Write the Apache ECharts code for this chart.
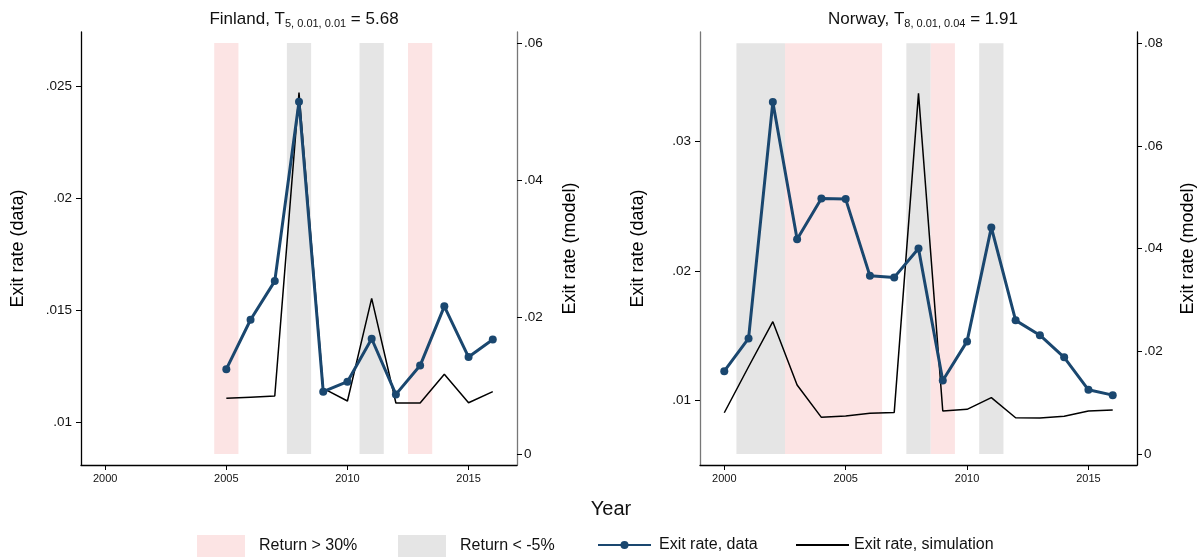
<!DOCTYPE html>
<html>
<head>
<meta charset="utf-8">
<script src="https://cdn.jsdelivr.net/npm/echarts@6/dist/echarts.min.js"></script>
<style>
html,body{margin:0;padding:0;background:#fff;}
#c{width:1199px;height:557px;}
</style>
</head>
<body>
<div id="c"></div>
<script>
// ---- data ----
var finYears = [2005, 2006, 2007, 2008, 2009, 2010, 2011, 2012, 2013, 2014, 2015, 2016];
var finData = [0.01236, 0.01457, 0.0163, 0.02433, 0.01135, 0.0118, 0.01372, 0.01123, 0.01252, 0.01517, 0.0129, 0.01369];
var finSim = [0.00813, 0.0083, 0.00847, 0.05275, 0.00959, 0.00774, 0.02273, 0.00745, 0.00745, 0.01163, 0.00749, 0.0091];
var norYears = [2000, 2001, 2002, 2003, 2004, 2005, 2006, 2007, 2008, 2009, 2010, 2011, 2012, 2013, 2014, 2015, 2016];
var norData = [0.01228, 0.0148, 0.033, 0.02243, 0.02558, 0.02553, 0.01962, 0.0195, 0.02173, 0.01156, 0.01457, 0.02335, 0.01619, 0.01505, 0.01334, 0.01084, 0.01043];
var norSim = [0.00804, 0.017, 0.02577, 0.01344, 0.00714, 0.0074, 0.00792, 0.00811, 0.07024, 0.00837, 0.0087, 0.01097, 0.00707, 0.00701, 0.00734, 0.00837, 0.00857];

// shaded periods [start, end]
var finHigh = [[2004.5, 2005.5], [2012.5, 2013.5]];
var finLow = [[2007.5, 2008.5], [2010.5, 2011.5]];
var norHigh = [[2002.5, 2006.5], [2008.5, 2009.5]];
var norLow = [[2000.5, 2002.5], [2007.5, 2008.5], [2010.5, 2011.5]];

// tick labels
var xTicks = [2000, 2005, 2010, 2015];
var finLeftTicks = [0.01, 0.015, 0.02, 0.025];
var finRightTicks = [0, 0.02, 0.04, 0.06];
var norLeftTicks = [0.01, 0.02, 0.03];
var norRightTicks = [0, 0.02, 0.04, 0.06, 0.08];

var legendNames = ['Return > 30%', 'Return < -5%', 'Exit rate, data', 'Exit rate, simulation'];
var titles = [
  {country: 'Finland, T', sub: '5, 0.01, 0.01', val: ' = 5.68'},
  {country: 'Norway, T', sub: '8, 0.01, 0.04', val: ' = 1.91'}
];

// ---- helpers ----
var FONT = '"Liberation Sans", Arial, Helvetica, sans-serif';
var PINK = '#fce4e4';
var GREY = '#e5e5e5';
var NAVY = '#1a476f';

function pairs(xs, ys) { return xs.map(function (x, i) { return [x, ys[i]]; }); }
function fmt(v) { return v === 0 ? '0' : String(+v.toFixed(4)).replace(/^0\./, '.'); }
function bands(list, top) {
  return list.map(function (b) { return [{xAxis: b[0], yAxis: 0}, {xAxis: b[1], yAxis: top}]; });
}

function xAxis(gi) {
  return {
    type: 'value', gridIndex: gi, min: 1999, max: 2017,
    splitLine: {show: false},
    axisLine: {show: true, onZero: false, lineStyle: {color: '#000', width: 1.3}},
    axisTick: {show: true, length: 5, customValues: xTicks, lineStyle: {color: '#000'}},
    axisLabel: {customValues: xTicks, formatter: function (v) { return String(v); },
      fontFamily: FONT, fontSize: 11, color: '#111', margin: 8}
  };
}
function yAxis(gi, pos, min, max, ticks, name, gap, lineColor) {
  return {
    type: 'value', gridIndex: gi, position: pos, min: min, max: max,
    name: name, nameLocation: 'middle', nameGap: gap,
    nameTextStyle: {fontFamily: FONT, fontSize: 18, color: '#000'},
    splitLine: {show: false},
    axisLine: {show: true, onZero: false, lineStyle: {color: lineColor, width: 1.3}},
    axisTick: {show: true, length: 5, customValues: ticks, lineStyle: {color: '#000'}},
    axisLabel: {customValues: ticks, formatter: fmt, fontFamily: FONT, fontSize: 13.5, color: '#111', margin: pos === 'left' ? 9 : 7}
  };
}
function title(t, cx) {
  return {
    text: '{a|' + t.country + '}{s|' + t.sub + '}{a|' + t.val + '}',
    left: cx, top: 4, textAlign: 'center',
    textStyle: {
      fontWeight: 'normal',
      rich: {
        a: {fontFamily: FONT, fontSize: 17, fontWeight: 'normal', color: '#111', lineHeight: 20, verticalAlign: 'middle'},
        s: {fontFamily: FONT, fontSize: 11, fontWeight: 'normal', color: '#111', lineHeight: 11, verticalAlign: 'bottom'}
      }
    }
  };
}
function bandSeries(name, color, gi, list, top) {
  return {
    name: name, type: 'line', xAxisIndex: gi, yAxisIndex: gi * 2 + 1, data: [], color: color, z: 1,
    markArea: {silent: true, itemStyle: {color: color, opacity: 1}, data: bands(list, top)}
  };
}
function dataSeries(gi, xs, ys) {
  return {
    name: legendNames[2], type: 'line', xAxisIndex: gi, yAxisIndex: gi * 2, data: pairs(xs, ys), z: 4,
    color: NAVY, symbol: 'circle', symbolSize: 8, showSymbol: true,
    lineStyle: {color: NAVY, width: 3}, itemStyle: {color: NAVY}
  };
}
function simSeries(gi, xs, ys) {
  return {
    name: legendNames[3], type: 'line', xAxisIndex: gi, yAxisIndex: gi * 2 + 1, data: pairs(xs, ys), z: 3,
    color: '#000', symbol: 'none', lineStyle: {color: '#000', width: 1.5}
  };
}
function legend(item, left, top, w, h, gap) {
  return {
    left: left, top: top, itemWidth: w, itemHeight: h, selectedMode: false, padding: 0,
    data: [item],
    formatter: function (n) { return '{g|}{t|' + n + '}'; },
    textStyle: {
      fontFamily: FONT, fontSize: 16, color: '#111',
      rich: {g: {width: gap, fontSize: 16}, t: {fontFamily: FONT, fontSize: 16, color: '#111'}}
    }
  };
}

var chart = echarts.init(document.getElementById('c'), null, {renderer: 'canvas'});
chart.setOption({
  animation: false,
  backgroundColor: '#fff',
  title: [
    title(titles[0], 299),
    title(titles[1], 918),
    {text: 'Year', left: 606, top: 494, textAlign: 'center', textStyle: {fontFamily: FONT, fontSize: 20, fontWeight: 'normal', color: '#111'}}
  ],
  legend: [
    legend({name: legendNames[0], icon: 'rect'}, 197, 535, 48, 22, 9),
    legend({name: legendNames[1], icon: 'rect'}, 398, 535, 48, 22, 9),
    legend({name: legendNames[2]}, 597, 537, 53, 10, 3),
    legend({name: legendNames[3], itemStyle: {opacity: 0}}, 795, 537, 53, 10, 0)
  ],
  grid: [
    {left: 81, top: 32, width: 436, height: 433},
    {left: 700, top: 32, width: 437, height: 433}
  ],
  xAxis: [xAxis(0), xAxis(1)],
  yAxis: [
    yAxis(0, 'left', 0.00807, 0.02745, finLeftTicks, 'Exit rate (data)', 54, '#000'),
    yAxis(0, 'right', -0.0016, 0.0616, finRightTicks, 'Exit rate (model)', 44, '#777'),
    yAxis(1, 'left', 0.00505, 0.0384, norLeftTicks, 'Exit rate (data)', 53, '#777'),
    yAxis(1, 'right', -0.00214, 0.0822, norRightTicks, 'Exit rate (model)', 42, '#000')
  ],
  series: [
    bandSeries(legendNames[0], PINK, 0, finHigh, 0.06),
    bandSeries(legendNames[1], GREY, 0, finLow, 0.06),
    bandSeries(legendNames[0], PINK, 1, norHigh, 0.08),
    bandSeries(legendNames[1], GREY, 1, norLow, 0.08),
    simSeries(0, finYears, finSim),
    dataSeries(0, finYears, finData),
    simSeries(1, norYears, norSim),
    dataSeries(1, norYears, norData)
  ]
});
</script>
</body>
</html>
